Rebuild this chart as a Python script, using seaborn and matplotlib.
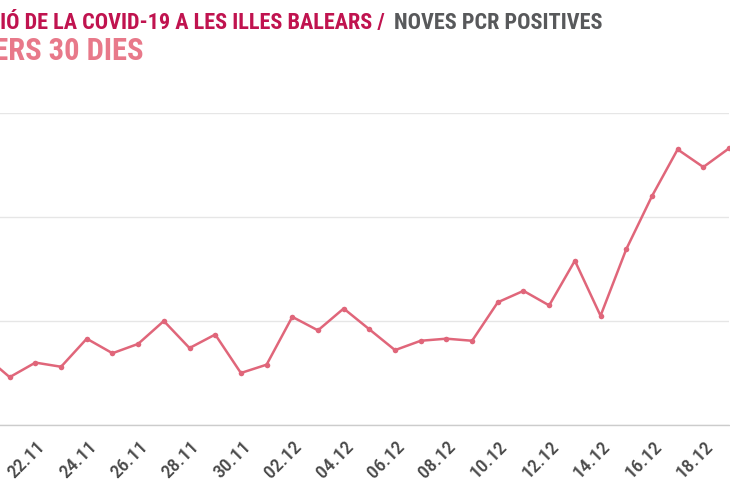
import pandas as pd
import matplotlib
matplotlib.use("Agg")
import matplotlib.pyplot as plt
import matplotlib.transforms as mtransforms
from matplotlib import font_manager
import seaborn as sns

# Noves PCR positives, darrers 30 dies (20.11 - 19.12)
dates = pd.date_range("2020-11-20", "2020-12-19", freq="D")
pcr_positives = [134, 92, 120, 112, 166, 138, 156, 200, 148, 174,
                 100, 116, 208, 182, 224, 184, 144, 162, 166, 162,
                 236, 258, 230, 316, 210, 338, 440, 530, 496, 532]
tick_dates = pd.date_range("2020-11-20", "2020-12-18", freq="2D")
tick_labels = [d.strftime("%d.%m") for d in tick_dates]

title_main = "EVOLUCIÓ DE LA COVID-19 A LES ILLES BALEARS /"
title_sub = "NOVES PCR POSITIVES"
subtitle = "DARRERS 30 DIES"

df = pd.DataFrame({"data": dates, "pcr": pcr_positives})

names = {f.name for f in font_manager.fontManager.ttflist}
font = "DejaVu Sans"
for cand in ["Liberation Sans Narrow", "DejaVu Sans Condensed", "Roboto Condensed"]:
    if cand in names:
        font = cand
        break

sns.set_style("white")
plt.rcParams["font.family"] = [font, "DejaVu Sans"]

line_col = "#e0667a"

fig = plt.figure(figsize=(7.3, 5), dpi=100)
W, H = 730, 500
# plot area is cropped on the left like the reference
ax = fig.add_axes([-16 / W, 75 / H, 745 / W, 312 / H])

sns.lineplot(data=df, x="data", y="pcr", ax=ax, color=line_col, linewidth=1.8,
             marker="o", markersize=4, markeredgewidth=0)

ax.set_xlim(dates[0], dates[-1])
ax.set_ylim(0, 600)
ax.set_yticks([0, 200, 400, 600])
ax.yaxis.grid(True, color="#e6e6e6", linewidth=1)
ax.set_axisbelow(True)
for s in ["top", "right", "left"]:
    ax.spines[s].set_visible(False)
ax.spines["bottom"].set_color("#cccccc")
ax.spines["bottom"].set_linewidth(1)
ax.set_xlabel("")
ax.set_ylabel("")
ax.tick_params(axis="y", length=0, labelleft=False)

ax.set_xticks(tick_dates)
ax.set_xticklabels(tick_labels, rotation=45, ha="right", va="center",
                   rotation_mode="anchor", fontsize=14, fontweight="medium",
                   color="#4a4a4a")
ax.tick_params(axis="x", length=0, pad=14)
offset = mtransforms.ScaledTranslation(7 / 100, 0, fig.dpi_scale_trans)
for lab in ax.get_xticklabels():
    lab.set_transform(lab.get_transform() + offset)

fig.text(385 / W, 1 - 29 / H, title_main, ha="right", va="baseline",
         fontsize=16, fontweight="bold", color="#c0134f")
fig.text(394 / W, 1 - 29 / H, title_sub, ha="left", va="baseline",
         fontsize=16, fontweight="bold", color="#58595b")
fig.text(143 / W, 1 - 60 / H, subtitle, ha="right", va="baseline",
         fontsize=22, fontweight="bold", color="#e8798a")

fig.savefig("out.png", dpi=100)
